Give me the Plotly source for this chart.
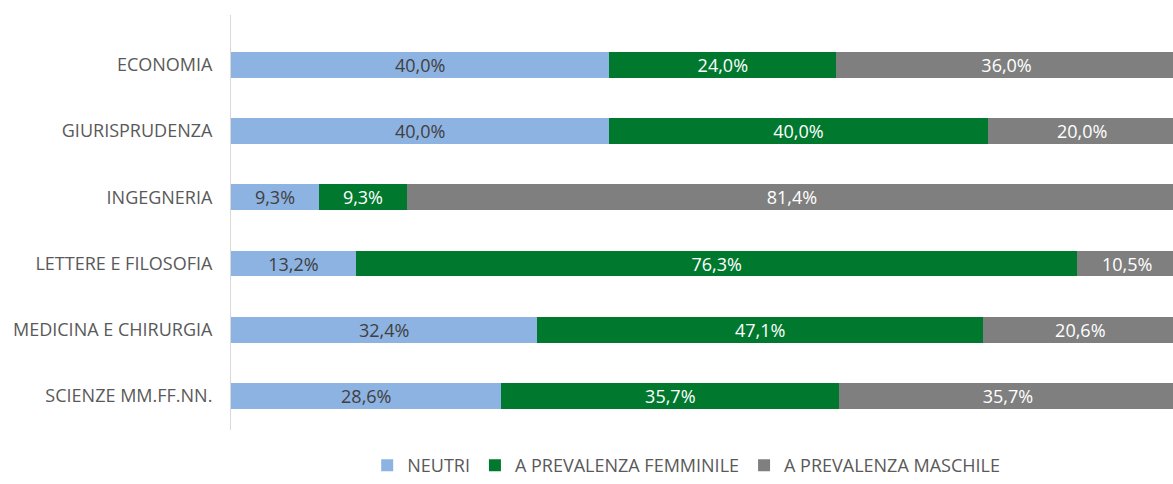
import plotly.graph_objects as go

categories = ["ECONOMIA", "GIURISPRUDENZA", "INGEGNERIA", "LETTERE E FILOSOFIA",
              "MEDICINA E CHIRURGIA", "SCIENZE MM.FF.NN."]
neutri = [40.0, 40.0, 9.3, 13.2, 32.4, 28.6]
femminile = [24.0, 40.0, 9.3, 76.3, 47.1, 35.7]
maschile = [36.0, 20.0, 81.4, 10.5, 20.6, 35.7]

series = [
    ("NEUTRI", neutri, "#8DB3E2", "#404040"),
    ("A PREVALENZA FEMMINILE", femminile, "#00792F", "#FFFFFF"),
    ("A PREVALENZA MASCHILE", maschile, "#7F7F7F", "#FFFFFF"),
]

FONT = "Open Sans"

def fmt(v):
    return f"{v:.1f}%".replace(".", ",")

fig = go.Figure()
for name, vals, color, tcolor in series:
    fig.add_trace(go.Bar(
        y=categories, x=vals, name=name, orientation="h",
        marker=dict(color=color, line=dict(width=0)),
        text=[fmt(v) for v in vals], textposition="inside",
        insidetextanchor="middle", constraintext="none",
        textfont=dict(color=tcolor, size=18, family=FONT),
    ))

fig.update_layout(
    barmode="stack", bargap=0.61,
    width=1173, height=484,
    margin=dict(l=231, r=0, t=15, b=54),
    plot_bgcolor="white", paper_bgcolor="white",
    font=dict(family=FONT, color="#595959", size=18),
    xaxis=dict(range=[0, 99.6], showgrid=False, zeroline=False,
               showticklabels=False, showline=False),
    yaxis=dict(range=[5.514, -0.755], showgrid=False, zeroline=False,
               showline=True, linecolor="#D9D9D9", linewidth=1,
               ticks="", ticklabelstandoff=14, tickfont=dict(size=18, color="#595959")),
    legend=dict(orientation="h", xref="container", yref="container",
                x=0.585, y=0.0, xanchor="center", yanchor="bottom",
                font=dict(size=18, color="#595959"), traceorder="normal",
                itemwidth=30),
    showlegend=True,
)

fig.write_html("out.html", config={"displayModeBar": False})

with open("out.html", "r", encoding="utf-8") as f:
    html = f.read()
html = html.replace("<body>", '<body style="margin:0;padding:0;overflow:hidden">', 1)
with open("out.html", "w", encoding="utf-8") as f:
    f.write(html)
